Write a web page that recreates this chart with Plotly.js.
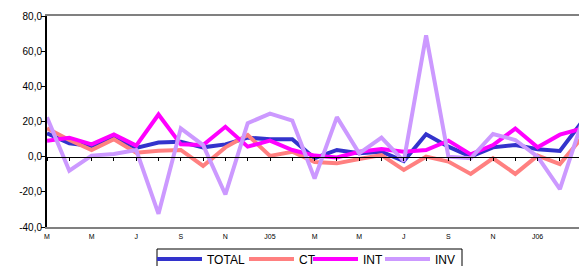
<!DOCTYPE html>
<html>
<head>
<meta charset="utf-8">
<script src="https://cdn.plot.ly/plotly-3.0.1.min.js"></script>
<style>html,body{margin:0;padding:0;background:#fff;overflow:hidden}#chart{width:579px;height:266px}</style>
</head>
<body>
<div id="chart"></div>
<script>
// Monthly categories, March 2004 .. March 2006
const months = ['2004-03','2004-04','2004-05','2004-06','2004-07','2004-08','2004-09','2004-10','2004-11','2004-12',
  '2005-01','2005-02','2005-03','2005-04','2005-05','2005-06','2005-07','2005-08','2005-09','2005-10','2005-11','2005-12',
  '2006-01','2006-02','2006-03'];
const xTickLabels = ['M','M','J','S','N','J05','M','M','J','S','N','J06'];
const yTickVals = [-40,-20,0,20,40,60,80];
const yTickText = ['-40,0','-20,0','0,0','20,0','40,0','60,0','80,0'];

const TOTAL = [13.3,7.6,6.1,11.4,5.0,8.0,8.5,5.3,7.0,10.8,9.9,9.9,-0.9,3.8,1.9,2.8,-2.5,12.7,5.7,0.0,5.3,6.6,4.2,3.2,20];
const CT    = [16.1,9.5,3.8,9.9,2.3,3.4,3.8,-5.3,5.3,12.3,0.4,2.8,-3.0,-3.8,-1.3,0.9,-7.5,0.0,-2.8,-9.8,-0.9,-9.8,0.6,-4.2,11];
const INT   = [9.1,10.8,7.0,12.7,6.3,24.0,7.0,6.6,17.0,5.7,9.1,3.8,0.6,-0.4,2.8,4.4,2.8,3.8,9.1,1.3,6.6,16.0,5.3,12.5,16];
const INV   = [22.4,-8.0,0.6,1.5,3.8,-32.5,16.1,6.6,-21.5,19.0,24.5,20.5,-12.5,22.5,1.9,10.8,-2.5,69.0,0.0,-0.9,12.9,9.5,0.0,-18.5,20];

const idx = months.map((m, i) => i);
const tickIdx = xTickLabels.map((t, i) => i * 2);

const series = [
  {name: 'TOTAL', y: TOTAL, color: '#3333CC'},
  {name: 'CT', y: CT, color: '#FF8080'},
  {name: 'INT', y: INT, color: '#FF00FF'},
  {name: 'INV', y: INV, color: '#CC99FF'}
];

// plot-area geometry (px)
const PL = 47, PR = 579, PT = 16, PB = 227, W = 579, H = 266;
const px2x = p => (p - PL) / (PR - PL);
const py2y = p => (PB - p) / (PB - PT);

// legend entry start positions (px)
const legendStarts = [152, 244, 308, 380];
const legendNames = ['legend', 'legend2', 'legend3', 'legend4'];

const traces = series.map((s, i) => ({
  type: 'scatter', mode: 'lines', name: s.name, x: idx, y: s.y,
  line: {color: s.color, width: 4}, xaxis: 'x', yaxis: 'y', legend: legendNames[i]
}));
traces.push({type: 'scatter', mode: 'lines', x: idx, y: idx.map(() => 0), xaxis: 'x2', yaxis: 'y',
  line: {width: 0, color: 'rgba(0,0,0,0)'}, showlegend: false, hoverinfo: 'skip'});

const xr = [0, (PR - PL) / 22.3];

const layout = {
  width: W, height: H,
  margin: {l: PL, r: W - PR, t: PT, b: H - PB, pad: 0, autoexpand: false},
  paper_bgcolor: '#fff', plot_bgcolor: '#fff',
  font: {family: 'Liberation Sans, Arial, sans-serif', color: '#000'},
  showlegend: true,
  xaxis: {
    range: xr, showgrid: false, zeroline: false,
    showline: true, linecolor: '#808080', linewidth: 2, mirror: true,
    tickmode: 'array', tickvals: tickIdx, ticktext: xTickLabels, ticks: '',
    tickfont: {size: 7, family: 'Liberation Sans, Arial, sans-serif'},
    ticklabelstandoff: 2
  },
  xaxis2: {
    range: xr, overlaying: 'x', anchor: 'free', position: 1/3,
    showgrid: false, zeroline: false, showline: true, linecolor: '#000', linewidth: 1,
    ticks: 'outside', ticklen: 3, tickcolor: '#000', tickmode: 'linear', tick0: 0, dtick: 1,
    showticklabels: false
  },
  yaxis: {
    range: [-40, 80], showgrid: false, zeroline: false,
    showline: true, linecolor: '#000', linewidth: 2,
    ticks: 'outside', ticklen: 4, tickcolor: '#000',
    tickmode: 'array', tickvals: yTickVals, ticktext: yTickText,
    tickfont: {size: 10, family: 'Liberation Sans, Arial, sans-serif'},
    ticklabelstandoff: -3
  },
  shapes: [{
    type: 'rect', xref: 'paper', yref: 'paper',
    x0: px2x(157), x1: px2x(462), y0: py2y(249), y1: py2y(275),
    line: {color: '#000', width: 1}, fillcolor: 'rgba(0,0,0,0)', layer: 'above'
  }]
};
legendNames.forEach((ln, i) => {
  layout[ln] = {
    orientation: 'h', x: px2x(legendStarts[i]), xanchor: 'left', y: py2y(259), yanchor: 'middle',
    bgcolor: 'rgba(0,0,0,0)', borderwidth: 0, itemwidth: 45,
    font: {size: 12, family: 'Liberation Sans, Arial, sans-serif'}
  };
});

Plotly.newPlot('chart', traces, layout, {staticPlot: true, displayModeBar: false});
</script>
</body>
</html>
